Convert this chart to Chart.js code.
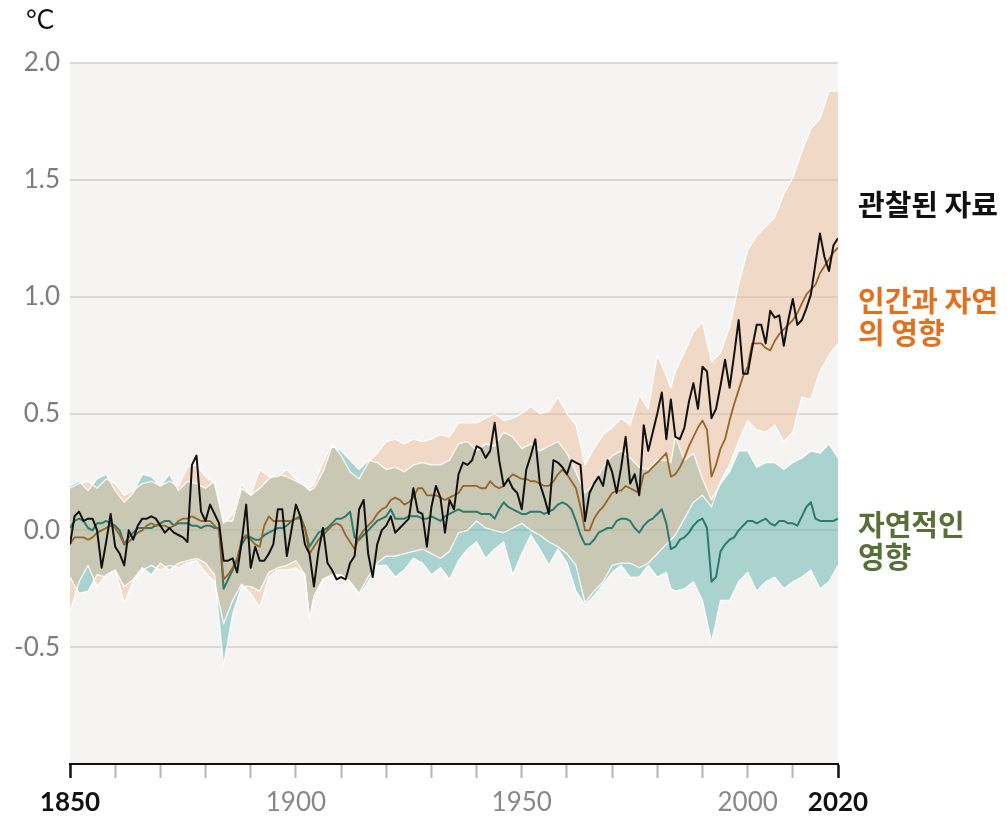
<!DOCTYPE html>
<html lang="ko">
<head>
<meta charset="utf-8">
<title>지구 표면 온도 변화</title>
<script src="https://cdn.jsdelivr.net/npm/chart.js@4.4.0/dist/chart.umd.min.js"></script>
<style>
  html, body { margin: 0; padding: 0; background: #fff; }
  #wrap { position: relative; width: 1007px; height: 818px; }
</style>
</head>
<body>
<div id="wrap"><canvas id="tempChart"></canvas></div>
<script>
// annual x positions 1850..2020
const years = Array.from({ length: 2020 - 1850 + 1 }, (_, i) => 1850 + i);

// observed (black)
const observed = [
  -0.06, 0.06, 0.08, 0.04, 0.05, 0.05, 0.00, -0.16, -0.05, 0.07,   // 1850
  -0.07, -0.10, -0.15, 0.00, -0.04, 0.02, 0.05, 0.05, 0.06, 0.05,  // 1860
  0.02, -0.01, 0.01, -0.01, -0.02, -0.03, -0.05, 0.28, 0.32, 0.08, // 1870
  0.04, 0.11, 0.07, 0.03, -0.13, -0.13, -0.12, -0.18, -0.05, 0.11, // 1880
  -0.16, -0.07, -0.13, -0.13, -0.10, -0.06, 0.09, 0.09, -0.11, 0.00, // 1890
  0.11, 0.06, -0.06, -0.10, -0.24, -0.09, 0.01, -0.14, -0.17, -0.21, // 1900
  -0.20, -0.21, -0.14, -0.11, 0.09, 0.13, -0.10, -0.20, -0.06, 0.00, // 1910
  0.02, 0.06, -0.01, 0.01, 0.03, 0.05, 0.18, 0.08, 0.07, -0.07,    // 1920
  0.10, 0.19, 0.14, -0.01, 0.13, 0.09, 0.24, 0.29, 0.28, 0.30,     // 1930
  0.36, 0.35, 0.31, 0.34, 0.46, 0.30, 0.19, 0.22, 0.18, 0.16,      // 1940
  0.09, 0.26, 0.32, 0.39, 0.20, 0.14, 0.07, 0.30, 0.29, 0.27,      // 1950
  0.24, 0.30, 0.29, 0.28, 0.04, 0.16, 0.20, 0.23, 0.19, 0.30,      // 1960
  0.25, 0.16, 0.27, 0.40, 0.20, 0.24, 0.15, 0.45, 0.34, 0.42,      // 1970
  0.50, 0.59, 0.39, 0.56, 0.40, 0.39, 0.44, 0.55, 0.63, 0.52,      // 1980
  0.70, 0.68, 0.48, 0.52, 0.62, 0.73, 0.61, 0.75, 0.90, 0.67,      // 1990
  0.67, 0.78, 0.88, 0.88, 0.80, 0.94, 0.91, 0.92, 0.79, 0.90,      // 2000
  0.99, 0.88, 0.90, 0.95, 1.01, 1.14, 1.27, 1.17, 1.11, 1.22,      // 2010
  1.25                                                              // 2020
];

// simulated, human + natural (brown line)
const humanNatural = [
  -0.06, -0.03, -0.03, -0.03, -0.04, -0.03, -0.01, 0.00, 0.01, 0.02,
  0.01, -0.02, -0.06, -0.05, -0.03, -0.01, 0.00, 0.02, 0.03, 0.02,
  0.02, 0.02, 0.01, 0.02, 0.04, 0.05, 0.05, 0.06, 0.05, 0.04,
  0.04, 0.04, 0.02, 0.00, -0.21, -0.19, -0.16, -0.12, -0.04, -0.02,
  -0.04, -0.06, -0.07, 0.02, 0.06, 0.04, 0.04, 0.04, 0.04, 0.04,
  0.05, 0.05, 0.01, -0.10, -0.07, -0.04, -0.02, 0.00, 0.02, 0.03,
  0.02, -0.02, -0.05, -0.08, -0.03, 0.00, 0.02, 0.04, 0.07, 0.09,
  0.10, 0.13, 0.14, 0.13, 0.11, 0.12, 0.14, 0.18, 0.18, 0.15,
  0.15, 0.15, 0.14, 0.13, 0.14, 0.15, 0.16, 0.19, 0.19, 0.19,
  0.19, 0.18, 0.18, 0.21, 0.19, 0.18, 0.19, 0.22, 0.24, 0.23,
  0.22, 0.22, 0.21, 0.21, 0.20, 0.19, 0.19, 0.21, 0.24, 0.26,
  0.24, 0.21, 0.18, 0.10, 0.00, 0.00, 0.05, 0.08, 0.10, 0.13,
  0.16, 0.17, 0.17, 0.19, 0.18, 0.17, 0.16, 0.24, 0.25, 0.27,
  0.29, 0.31, 0.33, 0.23, 0.24, 0.27, 0.31, 0.36, 0.40, 0.44,
  0.47, 0.43, 0.23, 0.28, 0.35, 0.39, 0.47, 0.54, 0.60, 0.66,
  0.70, 0.80, 0.80, 0.80, 0.78, 0.77, 0.81, 0.84, 0.86, 0.88,
  0.90, 0.93, 0.97, 1.01, 1.03, 1.05, 1.10, 1.13, 1.16, 1.19,
  1.21
];

// simulated, natural only (green line)
const naturalOnly = [
  0.01, 0.04, 0.05, 0.04, 0.01, 0.00, 0.03, 0.03, 0.04, 0.03,
  0.02, 0.00, -0.06, -0.03, -0.01, 0.01, 0.01, 0.01, 0.01, 0.02,
  0.03, 0.04, 0.04, 0.02, 0.03, 0.03, 0.03, 0.02, 0.02, 0.01,
  0.02, 0.02, 0.01, 0.01, -0.25, -0.21, -0.17, -0.13, -0.06, -0.03,
  -0.03, -0.04, -0.04, -0.02, -0.01, 0.00, 0.01, 0.01, 0.02, 0.04,
  0.05, 0.06, 0.01, -0.07, -0.04, -0.01, 0.00, 0.01, 0.03, 0.05,
  0.05, 0.06, 0.08, -0.03, -0.04, -0.02, 0.00, 0.02, 0.04, 0.05,
  0.06, 0.09, 0.05, 0.05, 0.05, 0.06, 0.06, 0.06, 0.05, 0.05,
  0.06, 0.05, 0.04, 0.06, 0.07, 0.08, 0.09, 0.08, 0.08, 0.08,
  0.08, 0.07, 0.07, 0.07, 0.05, 0.09, 0.12, 0.10, 0.09, 0.08,
  0.07, 0.07, 0.08, 0.08, 0.08, 0.07, 0.08, 0.09, 0.11, 0.12,
  0.11, 0.09, 0.04, -0.02, -0.06, -0.06, -0.04, -0.01, 0.00, 0.01,
  0.01, 0.04, 0.05, 0.05, 0.04, 0.01, -0.01, 0.02, 0.04, 0.05,
  0.07, 0.09, 0.03, -0.08, -0.07, -0.04, -0.03, -0.01, 0.02, 0.04,
  0.05, 0.01, -0.22, -0.20, -0.09, -0.06, -0.04, -0.03, 0.00, 0.02,
  0.04, 0.04, 0.03, 0.04, 0.05, 0.03, 0.02, 0.04, 0.04, 0.03,
  0.03, 0.02, 0.06, 0.10, 0.12, 0.05, 0.04, 0.04, 0.04, 0.04,
  0.05
];

// years at which the shaded ranges were read
const bandYears = [
  1850, 1852, 1854, 1856, 1858, 1860, 1862, 1864, 1866, 1868,
  1870, 1872, 1874, 1876, 1878, 1880, 1882, 1884, 1886, 1888,
  1890, 1892, 1894, 1896, 1898, 1900, 1902, 1903, 1904, 1906,
  1908, 1910, 1912, 1914, 1916, 1918, 1920, 1922, 1924, 1926,
  1928, 1930, 1932, 1934, 1936, 1938, 1940, 1942, 1944, 1946,
  1948, 1950, 1952, 1954, 1956, 1958, 1960, 1962, 1964, 1966,
  1968, 1970, 1972, 1974, 1976, 1978, 1980, 1982, 1983, 1984,
  1986, 1988, 1990, 1992, 1994, 1996, 1998, 2000, 2002, 2004,
  2006, 2008, 2010, 2012, 2014, 2016, 2018, 2020
];

const humanNaturalHigh = [
  0.18, 0.20, 0.21, 0.18, 0.22, 0.20, 0.15, 0.17, 0.20, 0.21,
  0.19, 0.21, 0.19, 0.27, 0.28, 0.23, 0.20, 0.03, 0.07, 0.20,
  0.15, 0.26, 0.23, 0.23, 0.26, 0.22, 0.19, 0.18, 0.20, 0.29,
  0.37, 0.32, 0.25, 0.22, 0.29, 0.33, 0.38, 0.39, 0.37, 0.39,
  0.38, 0.39, 0.41, 0.40, 0.46, 0.46, 0.46, 0.48, 0.50, 0.47,
  0.48, 0.50, 0.53, 0.50, 0.51, 0.57, 0.50, 0.45, 0.28, 0.35,
  0.41, 0.44, 0.48, 0.45, 0.58, 0.52, 0.75, 0.66, 0.61, 0.68,
  0.76, 0.85, 0.89, 0.72, 0.76, 0.87, 1.05, 1.20, 1.26, 1.30,
  1.34, 1.44, 1.51, 1.62, 1.72, 1.76, 1.88, 1.88
];

const humanNaturalLow = [
  -0.35, -0.22, -0.15, -0.24, -0.19, -0.17, -0.31, -0.22, -0.17, -0.15,
  -0.17, -0.15, -0.16, -0.14, -0.13, -0.18, -0.22, -0.40, -0.30, -0.23,
  -0.27, -0.33, -0.20, -0.17, -0.17, -0.16, -0.19, -0.38, -0.30, -0.21,
  -0.19, -0.19, -0.22, -0.27, -0.20, -0.14, -0.11, -0.11, -0.10, -0.09,
  -0.08, -0.10, -0.12, -0.09, -0.01, 0.00, 0.04, 0.01, 0.00, -0.01,
  0.01, 0.03, 0.00, -0.02, -0.05, -0.07, -0.10, -0.15, -0.31, -0.26,
  -0.22, -0.15, -0.14, -0.14, -0.16, -0.14, -0.10, -0.06, -0.04, -0.02,
  0.05, 0.12, 0.15, 0.10, 0.21, 0.28, 0.38, 0.47, 0.43, 0.42,
  0.45, 0.38, 0.42, 0.57, 0.56, 0.68, 0.75, 0.80
];

const naturalHigh = [
  0.19, 0.21, 0.17, 0.22, 0.24, 0.17, 0.12, 0.16, 0.24, 0.23,
  0.19, 0.24, 0.17, 0.21, 0.20, 0.18, 0.21, 0.04, 0.04, 0.18,
  0.15, 0.18, 0.22, 0.24, 0.23, 0.21, 0.19, 0.17, 0.18, 0.25,
  0.36, 0.34, 0.30, 0.26, 0.30, 0.29, 0.26, 0.27, 0.25, 0.28,
  0.29, 0.28, 0.28, 0.30, 0.37, 0.38, 0.34, 0.37, 0.36, 0.42,
  0.40, 0.35, 0.37, 0.34, 0.36, 0.38, 0.33, 0.25, 0.16, 0.20,
  0.27, 0.32, 0.34, 0.31, 0.27, 0.26, 0.30, 0.30, 0.29, 0.40,
  0.30, 0.33, 0.22, 0.13, 0.20, 0.25, 0.34, 0.34, 0.27, 0.29,
  0.29, 0.26, 0.29, 0.31, 0.34, 0.33, 0.37, 0.31
];

const naturalLow = [
  -0.20, -0.27, -0.26, -0.19, -0.20, -0.17, -0.24, -0.21, -0.16, -0.19,
  -0.14, -0.17, -0.14, -0.13, -0.12, -0.14, -0.19, -0.58, -0.36, -0.24,
  -0.24, -0.26, -0.18, -0.16, -0.15, -0.13, -0.19, -0.38, -0.28, -0.21,
  -0.19, -0.19, -0.22, -0.28, -0.22, -0.15, -0.15, -0.20, -0.17, -0.12,
  -0.14, -0.19, -0.16, -0.21, -0.13, -0.08, -0.05, -0.12, -0.08, -0.05,
  -0.19, -0.10, -0.02, -0.08, -0.15, -0.08, -0.14, -0.26, -0.32, -0.28,
  -0.23, -0.18, -0.15, -0.20, -0.20, -0.15, -0.20, -0.18, -0.25, -0.26,
  -0.25, -0.22, -0.30, -0.48, -0.30, -0.30, -0.22, -0.18, -0.26, -0.22,
  -0.20, -0.25, -0.22, -0.20, -0.17, -0.25, -0.22, -0.15
];

const xTickYears = [1850, 1860, 1870, 1880, 1890, 1900, 1910, 1920, 1930, 1940,
  1950, 1960, 1970, 1980, 1990, 2000, 2010, 2020];
const xTickLabels = [1850, 1900, 1950, 2000, 2020];
const xBoldLabels = [1850, 2020];
const yTickValues = [-1, -0.5, 0, 0.5, 1, 1.5, 2];

const unitLabel = '°C';
const observedLabel = ['관찰된 자료'];
const humanNaturalLabel = ['인간과 자연', '의 영향'];
const naturalLabel = ['자연적인', '영향'];

const toPoints = (xs, ys) => xs.map((x, i) => ({ x: x, y: ys[i] }));
const isEndYear = c => !!(c && c.tick && xBoldLabels.includes(c.tick.value));

const bandEdge = 'rgba(255, 255, 255, 0.9)';

// light grey plot background
const plotBackground = {
  id: 'plotBackground',
  beforeDraw(chart) {
    const { ctx, chartArea: a } = chart;
    ctx.save();
    ctx.fillStyle = '#ffffff';
    ctx.fillRect(0, 0, chart.width, chart.height);
    ctx.fillStyle = '#f5f4f2';
    ctx.fillRect(a.left, a.top, a.right - a.left, a.bottom - a.top);
    ctx.restore();
  }
};

// unit and series names at the right
const chartText = {
  id: 'chartText',
  afterDraw(chart) {
    const ctx = chart.ctx;
    ctx.save();
    ctx.fillStyle = '#111';
    ctx.font = '26px Lato';
    ctx.textBaseline = 'alphabetic';
    ctx.fillText(unitLabel, 26, 29);

    ctx.font = 'bold 29px "Noto Sans CJK KR"';
    ctx.textBaseline = 'middle';
    const blocks = [
      { lines: observedLabel, color: '#111111', y: 205 },
      { lines: humanNaturalLabel, color: '#e4701e', y: 301 },
      { lines: naturalLabel, color: '#587038', y: 525 }
    ];
    blocks.forEach(b => {
      ctx.fillStyle = b.color;
      b.lines.forEach((t, i) => ctx.fillText(t, 858, b.y + i * 32));
    });
    ctx.restore();
  }
};

Chart.defaults.font.family = 'Lato';

const ctx = document.getElementById('tempChart').getContext('2d');
new Chart(ctx, {
  type: 'line',
  data: {
    datasets: [
      {
        label: '관찰된 자료',
        data: toPoints(years, observed),
        borderColor: '#111111',
        borderWidth: 2,
        fill: false,
        order: 0
      },
      {
        label: '인간과 자연의 영향',
        data: toPoints(years, humanNatural),
        borderColor: '#9a6426',
        borderWidth: 1.8,
        fill: false,
        order: 1
      },
      {
        label: '자연적인 영향',
        data: toPoints(years, naturalOnly),
        borderColor: '#2b7a6f',
        borderWidth: 2,
        fill: false,
        order: 2
      },
      {
        label: 'human+natural high',
        data: toPoints(bandYears, humanNaturalHigh),
        borderColor: bandEdge,
        borderWidth: 1.3,
        backgroundColor: 'rgba(236, 188, 150, 0.47)',
        fill: '+1',
        order: 3
      },
      {
        label: 'human+natural low',
        data: toPoints(bandYears, humanNaturalLow),
        borderColor: bandEdge,
        borderWidth: 1.3,
        fill: false,
        order: 4
      },
      {
        label: 'natural high',
        data: toPoints(bandYears, naturalHigh),
        borderColor: bandEdge,
        borderWidth: 1.3,
        backgroundColor: 'rgba(80, 170, 165, 0.45)',
        fill: '+1',
        order: 5
      },
      {
        label: 'natural low',
        data: toPoints(bandYears, naturalLow),
        borderColor: bandEdge,
        borderWidth: 1.3,
        fill: false,
        order: 6
      }
    ]
  },
  options: {
    responsive: true,
    maintainAspectRatio: false,
    animation: false,
    events: [],
    layout: { padding: { top: 63, right: 169, left: 0, bottom: 0 } },
    elements: {
      point: { radius: 0 },
      line: { tension: 0, borderJoinStyle: 'round' }
    },
    plugins: {
      legend: { display: false },
      tooltip: { enabled: false },
      filler: { drawTime: 'beforeDatasetsDraw' }
    },
    scales: {
      x: {
        type: 'linear',
        min: 1850,
        max: 2020,
        afterFit: s => { s.height = 54; },
        afterBuildTicks: axis => { axis.ticks = xTickYears.map(v => ({ value: v })); },
        border: { display: true, color: '#111', width: 2 },
        grid: {
          drawOnChartArea: false,
          drawTicks: true,
          tickLength: 14,
          tickColor: c => isEndYear(c) ? '#111' : '#b4b4b4',
          tickWidth: c => isEndYear(c) ? 2.5 : 2
        },
        ticks: {
          autoSkip: false,
          maxRotation: 0,
          padding: 9,
          color: c => isEndYear(c) ? '#111' : '#888',
          font: c => ({
            family: 'Lato',
            size: 26,
            weight: isEndYear(c) ? 'bold' : 'normal'
          }),
          callback: v => xTickLabels.includes(v) ? String(v) : ''
        }
      },
      y: {
        min: -1,
        max: 2,
        afterFit: s => { s.width = 70; },
        afterBuildTicks: axis => { axis.ticks = yTickValues.map(v => ({ value: v })); },
        border: { display: false },
        grid: {
          color: c => (c && c.tick && c.tick.value === -1) ? 'rgba(0,0,0,0)' : '#d9d9d9',
          lineWidth: 2,
          drawTicks: false
        },
        ticks: {
          padding: 10,
          color: '#7d7d7d',
          font: { family: 'Lato', size: 26 },
          callback: v => v === -1 ? '' : v.toFixed(1)
        }
      }
    }
  },
  plugins: [plotBackground, chartText]
});
</script>
</body>
</html>
